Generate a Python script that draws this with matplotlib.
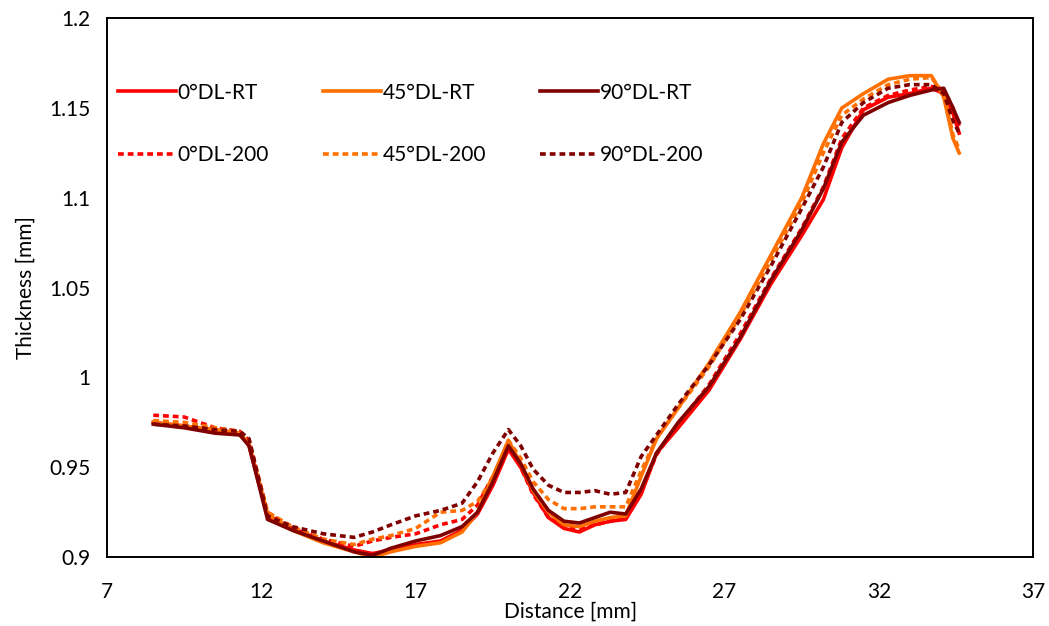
from matplotlib import pyplot as plt

# distance along the sample [mm]
x = [8.5, 9.5, 10.5, 11.3, 11.6, 12.2, 13.0, 14.0, 15.0, 15.6, 16.2, 17.0, 17.8, 18.5,
     19.0, 19.5, 20.0, 20.4, 20.8, 21.3, 21.8, 22.3, 22.8, 23.3, 23.8, 24.3, 24.8, 25.5,
     26.5, 27.5, 28.5, 29.5, 30.2, 30.8, 31.5, 32.3, 33.0, 33.7, 34.1, 34.4, 34.6]

# thickness [mm]
dl0_rt = [0.975, 0.973, 0.970, 0.969, 0.962, 0.923, 0.916, 0.909, 0.904, 0.902, 0.904, 0.907, 0.909, 0.915,
          0.924, 0.940, 0.960, 0.950, 0.936, 0.922, 0.916, 0.914, 0.918, 0.920, 0.921, 0.935, 0.958, 0.972,
          0.993, 1.021, 1.052, 1.079, 1.099, 1.128, 1.149, 1.156, 1.158, 1.161, 1.158, 1.147, 1.136]
dl45_rt = [0.975, 0.973, 0.971, 0.969, 0.963, 0.924, 0.915, 0.908, 0.903, 0.900, 0.903, 0.906, 0.908, 0.914,
           0.925, 0.945, 0.965, 0.952, 0.937, 0.925, 0.918, 0.917, 0.920, 0.922, 0.923, 0.945, 0.966, 0.983,
           1.008, 1.036, 1.068, 1.100, 1.130, 1.150, 1.158, 1.166, 1.168, 1.168, 1.156, 1.133, 1.125]
dl90_rt = [0.974, 0.972, 0.969, 0.968, 0.962, 0.921, 0.915, 0.909, 0.903, 0.901, 0.905, 0.909, 0.912, 0.917,
           0.925, 0.942, 0.962, 0.952, 0.938, 0.926, 0.920, 0.919, 0.922, 0.925, 0.924, 0.938, 0.958, 0.975,
           0.995, 1.022, 1.054, 1.082, 1.105, 1.131, 1.146, 1.153, 1.157, 1.160, 1.161, 1.150, 1.142]
dl0_200 = [0.979, 0.978, 0.972, 0.970, 0.965, 0.925, 0.916, 0.910, 0.906, 0.909, 0.911, 0.913, 0.918, 0.921,
           0.929, 0.945, 0.962, 0.950, 0.935, 0.922, 0.917, 0.916, 0.918, 0.920, 0.922, 0.937, 0.957, 0.974,
           0.996, 1.024, 1.055, 1.083, 1.106, 1.133, 1.150, 1.157, 1.160, 1.162, 1.160, 1.150, 1.140]
dl45_200 = [0.976, 0.975, 0.972, 0.970, 0.964, 0.925, 0.917, 0.910, 0.907, 0.910, 0.912, 0.916, 0.925, 0.926,
            0.931, 0.944, 0.965, 0.955, 0.942, 0.932, 0.927, 0.927, 0.928, 0.928, 0.928, 0.948, 0.966, 0.983,
            1.006, 1.034, 1.065, 1.097, 1.125, 1.146, 1.155, 1.163, 1.166, 1.167, 1.158, 1.135, 1.127]
dl90_200 = [0.974, 0.973, 0.971, 0.970, 0.966, 0.923, 0.917, 0.913, 0.911, 0.914, 0.918, 0.923, 0.926, 0.930,
            0.942, 0.958, 0.971, 0.962, 0.949, 0.940, 0.936, 0.936, 0.937, 0.935, 0.936, 0.956, 0.968, 0.985,
            1.007, 1.032, 1.062, 1.094, 1.117, 1.142, 1.153, 1.161, 1.163, 1.163, 1.158, 1.143, 1.136]

x_ticks = [7, 12, 17, 22, 27, 32, 37]
y_ticks = [0.9, 0.95, 1.0, 1.05, 1.1, 1.15, 1.2]
y_tick_labels = ['0.9', '0.95', '1', '1.05', '1.1', '1.15', '1.2']

plt.rcParams['font.family'] = ['Lato', 'DejaVu Sans']

red = '#FF0000'
orange = '#FF7000'
dark = '#800000'
dot = (0, (1.6, 1.1))
lw = 2.6

fig = plt.figure(figsize=(10.49, 6.26), dpi=100)
ax = fig.add_axes([0.102, 0.110, 0.883, 0.861])

# order so that the 3-column legend reads row by row
ax.plot(x, dl0_rt, color=red, lw=lw, label='0°DL-RT')
ax.plot(x, dl0_200, color=red, lw=lw, ls=dot, label='0°DL-200')
ax.plot(x, dl45_rt, color=orange, lw=lw, label='45°DL-RT')
ax.plot(x, dl45_200, color=orange, lw=lw, ls=dot, label='45°DL-200')
ax.plot(x, dl90_rt, color=dark, lw=lw, label='90°DL-RT')
ax.plot(x, dl90_200, color=dark, lw=lw, ls=dot, label='90°DL-200')

ax.set_xlim(7, 37)
ax.set_ylim(0.9, 1.2)
ax.set_xticks(x_ticks)
ax.set_yticks(y_ticks)
ax.set_yticklabels(y_tick_labels)
ax.tick_params(axis='x', length=0, pad=18, labelsize=15)
ax.tick_params(axis='y', length=0, pad=12, labelsize=15)
for s in ax.spines.values():
    s.set_linewidth(1.4)
    s.set_color('black')

ax.set_xlabel('Distance [mm]', fontsize=15, labelpad=0)
ax.set_ylabel('Thickness [mm]', fontsize=15, labelpad=10)

ax.legend(loc='upper left', bbox_to_anchor=(-0.008, 0.915), ncol=3, frameon=False,
          fontsize=15, handlelength=2.75, handletextpad=0.1, columnspacing=2.6,
          labelspacing=2.05)

plt.savefig('out.png', dpi=100)
